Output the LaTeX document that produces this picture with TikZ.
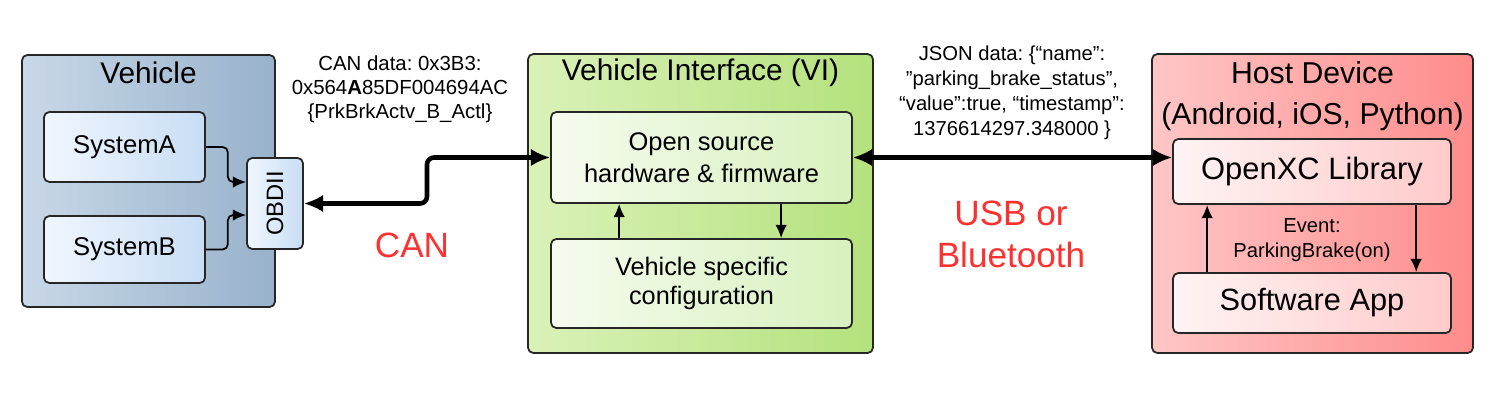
\documentclass[tikz,border=0pt]{standalone}
\usepackage{fontspec}
\setmainfont{Liberation Sans}
\usetikzlibrary{arrows.meta,calc}
\frenchspacing

\definecolor{vehleft}{HTML}{C8D8E8}
\definecolor{vehright}{HTML}{98B2CB}
\definecolor{sysleft}{HTML}{F0F6FE}
\definecolor{sysright}{HTML}{C8DDF4}
\definecolor{vileft}{HTML}{DAF1B8}
\definecolor{viright}{HTML}{B4E27D}
\definecolor{vinleft}{HTML}{F5FBEE}
\definecolor{vinright}{HTML}{D8F1BE}
\definecolor{hostleft}{HTML}{FFC6C6}
\definecolor{hostright}{HTML}{FF8C8C}
\definecolor{hinleft}{HTML}{FFF3F3}
\definecolor{hinright}{HTML}{FFCACA}
\definecolor{busred}{HTML}{FF3030}

\begin{document}
\begin{tikzpicture}[%
      x=0.02cm, y=-0.02cm,
      frame/.style={draw=black!85, line width=1pt, rounded corners=3pt, inner sep=0pt},
      vehbox/.style={frame, left color=vehleft, right color=vehright},
      sysbox/.style={frame, left color=sysleft, right color=sysright},
      vibox/.style={frame, left color=vileft, right color=viright},
      vinbox/.style={frame, left color=vinleft, right color=vinright},
      hostbox/.style={frame, left color=hostleft, right color=hostright},
      hinbox/.style={frame, left color=hinleft, right color=hinright},
      link/.style={line width=2.6pt, rounded corners=4pt,
        {Latex[length=11pt,width=10pt]}-{Latex[length=11pt,width=10pt]}},
      flow/.style={line width=1pt, rounded corners=3pt, -{Latex[length=7.5pt,width=6.5pt]}},
      ]
      \useasboundingbox (0,0) rectangle (1500,400);

      % vehicle
      \node[vehbox, minimum width=5.06cm, minimum height=5.04cm] (veh) at (148.5,181) {};
      \node[font=\fontsize{17}{20}\selectfont] (vehtitle) at (148.5,73) {Vehicle};
      \node[sysbox, minimum width=3.22cm, minimum height=1.4cm, font=\fontsize{14.6}{17}\selectfont]
        (sysA) at (124.5,147) {SystemA};
      \node[sysbox, minimum width=3.22cm, minimum height=1.34cm, font=\fontsize{14.6}{17}\selectfont]
        (sysB) at (124.5,249.5) {SystemB};
      \node[sysbox, minimum width=1.12cm, minimum height=1.82cm] (obd) at (275,203.5) {};
      \node[rotate=90, font=\fontsize{13.5}{16}\selectfont] (obdtext) at (obd.center) {OBDII};

      \coordinate (obdA) at ($(obd.west)+(0,-21.5)$);
      \coordinate (obdB) at ($(obd.west)+(0,11.5)$);
      \draw[flow] (sysA.east) -- ++(22,0) |- (obdA);
      \draw[flow] (sysB.east) -- ++(22,0) |- (obdB);

      % vehicle interface
      \node[vibox, minimum width=6.9cm, minimum height=5.98cm] (vi) at (700.5,203.5) {};
      \node[font=\fontsize{17}{20}\selectfont] (vititle) at (700.5,73) {Vehicle Interface (VI)};
      \node[vinbox, minimum width=6.02cm, minimum height=1.82cm, align=center,
        font=\fontsize{14.5}{18}\selectfont] (osrc) at (701.5,157.5)
        {Open source\\hardware \& firmware};
      \node[vinbox, minimum width=6.02cm, minimum height=1.78cm, align=center,
        font=\fontsize{14.4}{16.5}\selectfont] (vcfg) at (701.5,283.5)
        {Vehicle specific\\configuration};
      \draw[flow] ($(vcfg.north west)+(69,0)$) coordinate (upvi) -- (upvi |- osrc.south);
      \draw[flow] ($(osrc.south west)+(231,0)$) coordinate (downvi) -- (downvi |- vcfg.north);

      % host device
      \node[hostbox, minimum width=6.42cm, minimum height=5.98cm] (host) at (1312.5,203.5) {};
      \node[align=center, font=\fontsize{17.2}{23}\selectfont] (hosttitle) at (1312.5,96)
        {Host Device\\(Android, iOS, Python)};
      \node[hinbox, minimum width=5.56cm, minimum height=1.3cm, font=\fontsize{17.6}{20}\selectfont]
        (lib) at (1312,171.5) {OpenXC Library};
      \node[hinbox, minimum width=5.56cm, minimum height=1.2cm, font=\fontsize{17.5}{20}\selectfont]
        (app) at (1312,303) {Software App};
      \draw[flow] ($(app.north west)+(35,0)$) coordinate (uphost) -- (uphost |- lib.south);
      \draw[flow] ($(lib.south west)+(244,0)$) coordinate (downhost) -- (downhost |- app.north);
      \node[align=center, font=\fontsize{11.5}{14}\selectfont] (event) at (1312,240)
        {Event:\\ParkingBrake(on)};

      % buses
      \coordinate (canbend) at (427,180);
      \draw[link] (obd.east) -| (canbend) |- (osrc.west);
      \draw[link] (osrc.east) -- (osrc.east -| lib.west);

      \node[align=center, font=\fontsize{11.6}{13.6}\selectfont] (candata) at (400,89)
        {CAN data: 0x3B3:\\0x564\textbf{A}85DF004694AC\\\{PrkBrkActv\_B\_Actl\}};
      \node[text=busred, font=\fontsize{20}{23}\selectfont] (can) at (412,245) {CAN};
      \node[align=center, font=\fontsize{11.5}{14.2}\selectfont] (jsondata) at (1012,93)
        {JSON data: \{“name”:\\”parking\_brake\_status”,\\“value”:true, “timestamp”:\\1376614297.348000 \}};
      \node[align=center, text=busred, font=\fontsize{20}{24}\selectfont] (usb) at (1011,234)
        {USB or\\Bluetooth};
      \end{tikzpicture}
\end{document}
